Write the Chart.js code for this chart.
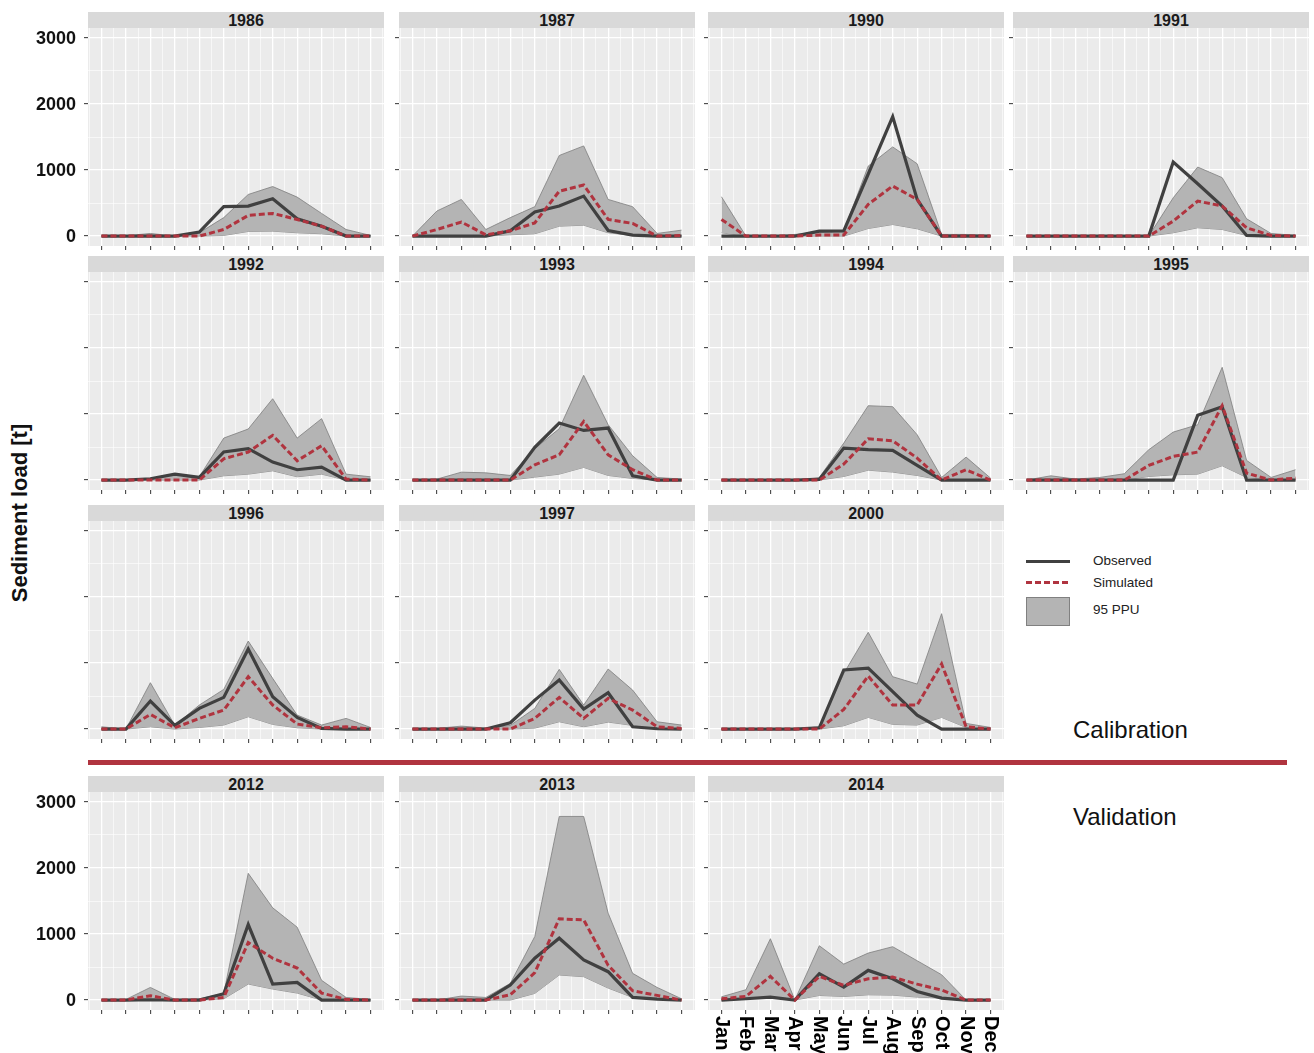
<!DOCTYPE html>
<html>
<head>
<meta charset="utf-8">
<script src="https://cdn.jsdelivr.net/npm/chart.js@4.4.0/dist/chart.umd.min.js"></script>
<style>
  body { margin: 0; width: 1314px; height: 1053px; overflow: hidden; background: #fff;
         position: relative; font-family: "Liberation Sans", Arial, sans-serif; }
  canvas { position: absolute; }
  .strip { position: absolute; background: #d9d9d9; color: #1a1a1a; font-weight: bold;
           font-size: 16px; text-align: center; height: 16px; line-height: 18px;
           box-sizing: border-box; padding-left: 20px; }
  .txt { position: absolute; white-space: nowrap; color: #222; }
</style>
</head>
<body>
<div class="txt" id="ytitle" style="left:20px;top:513px;font-size:22px;font-weight:bold;color:#111;
     transform:translate(-50%,-50%) rotate(-90deg);">Sediment load [t]</div>

<div style="position:absolute;left:1026px;top:560px;width:44px;height:3px;background:#404040;"></div>
<div class="txt" style="left:1093px;top:553px;font-size:13.5px;">Observed</div>
<div style="position:absolute;left:1026px;top:581px;width:44px;height:3px;
     background:repeating-linear-gradient(90deg,#b0343f 0 6px,transparent 6px 9px);"></div>
<div class="txt" style="left:1093px;top:575px;font-size:13.5px;">Simulated</div>
<div style="position:absolute;left:1026px;top:597px;width:44px;height:29px;box-sizing:border-box;
     background:#b4b4b4;border:1px solid #808080;"></div>
<div class="txt" style="left:1093px;top:602px;font-size:13.5px;">95 PPU</div>

<div class="txt" style="left:1073px;top:716px;font-size:24px;color:#111;">Calibration</div>
<div style="position:absolute;left:88px;top:759.5px;width:1199px;height:5px;background:#b0343f;"></div>
<div class="txt" style="left:1073px;top:803px;font-size:24px;color:#111;">Validation</div>

<script>
// facets, in drawing order
const years = ['1986', '1987', '1990', '1991', '1992', '1993', '1994', '1995',
               '1996', '1997', '2000', '2012', '2013', '2014'];
const months = ['Jan', 'Feb', 'Mar', 'Apr', 'May', 'Jun', 'Jul', 'Aug', 'Sep', 'Oct', 'Nov', 'Dec'];
const yTicks = [0, 1000, 2000, 3000];

// sediment load [t], one row per year
const observed = [
  [0, 0, 0, 0, 60, 445, 455, 565, 262, 150, 0, 0],
  [0, 0, 0, 0, 80, 365, 455, 605, 85, 15, 0, 0],
  [0, 0, 0, 0, 75, 80, 940, 1808, 555, 0, 0, 0],
  [0, 0, 0, 0, 0, 0, 1120, 793, 455, 10, 0, 0],
  [0, 0, 20, 90, 40, 425, 475, 273, 157, 197, 0, 0],
  [0, 0, 0, 0, 0, 495, 863, 752, 788, 65, 0, 0],
  [0, 0, 0, 0, 10, 485, 460, 450, 222, 0, 0, 0],
  [0, 0, 0, 0, 0, 0, 0, 980, 1111, 0, 0, 0],
  [0, 0, 425, 56, 313, 480, 1213, 490, 177, 10, 0, 0],
  [0, 0, 0, 0, 96, 439, 742, 303, 550, 35, 5, 0],
  [0, 0, 0, 0, 20, 896, 924, 566, 212, 0, 0, 0],
  [0, 0, 5, 0, 0, 96, 1144, 243, 268, 0, 0, 0],
  [0, 0, 0, 0, 228, 633, 937, 608, 430, 40, 15, 0],
  [0, 20, 45, 0, 400, 197, 450, 323, 131, 30, 0, 0]
];
const simulated = [
  [0, 0, 0, 0, 0, 100, 313, 343, 252, 150, 0, 0],
  [0, 100, 212, 20, 80, 200, 680, 773, 252, 192, 0, 10],
  [252, 0, 0, 0, 15, 15, 480, 758, 555, 0, 0, 0],
  [0, 0, 0, 0, 0, 0, 227, 530, 455, 126, 10, 0],
  [0, 0, 0, 0, 0, 323, 425, 677, 293, 520, 15, 0],
  [0, 0, 0, 0, 0, 232, 383, 888, 383, 157, 0, 0],
  [0, 0, 0, 0, 0, 242, 626, 596, 333, 0, 157, 0],
  [0, 0, 0, 0, 0, 222, 359, 424, 1126, 106, 0, 30],
  [0, 0, 222, 20, 162, 288, 793, 364, 76, 20, 35, 0],
  [0, 0, 0, 0, 0, 162, 480, 162, 465, 288, 35, 10],
  [0, 0, 0, 0, 0, 298, 803, 364, 364, 985, 35, 0],
  [0, 0, 66, 0, 0, 40, 871, 633, 486, 106, 10, 0],
  [0, 0, 0, 0, 81, 415, 1230, 1215, 526, 142, 71, 0],
  [20, 55, 359, 0, 359, 222, 323, 348, 242, 152, 0, 0]
];
const ppuUpper = [
  [0, 5, 40, 0, 50, 280, 630, 750, 590, 343, 100, 10],
  [0, 380, 555, 100, 280, 445, 1220, 1365, 555, 445, 40, 90],
  [596, 0, 0, 25, 60, 75, 1060, 1350, 1095, 25, 25, 10],
  [0, 0, 0, 0, 0, 0, 580, 1045, 885, 262, 40, 10],
  [0, 0, 20, 80, 50, 636, 773, 1232, 636, 930, 90, 50],
  [0, 15, 120, 110, 70, 475, 778, 1586, 838, 369, 40, 15],
  [0, 0, 0, 0, 40, 560, 1126, 1111, 687, 40, 348, 30],
  [0, 65, 15, 40, 96, 460, 727, 838, 1707, 298, 40, 157],
  [35, 0, 702, 56, 364, 601, 1333, 768, 212, 61, 162, 25],
  [0, 10, 45, 15, 56, 313, 904, 364, 909, 591, 111, 61],
  [0, 0, 0, 0, 35, 843, 1465, 793, 682, 1747, 86, 25],
  [0, 10, 192, 10, 20, 101, 1919, 1397, 1104, 299, 40, 10],
  [0, 0, 61, 40, 253, 962, 2780, 2780, 1316, 405, 192, 20],
  [50, 157, 929, 0, 823, 545, 712, 808, 596, 384, 0, 0]
];
const ppuLower = [
  [0, 0, 0, 0, 0, 10, 70, 75, 50, 35, 0, 0],
  [0, 0, 0, 0, 20, 35, 150, 165, 50, 10, 0, 0],
  [50, 0, 0, 0, 0, 0, 115, 175, 110, 0, 0, 0],
  [0, 0, 0, 0, 0, 0, 50, 126, 100, 10, 0, 0],
  [0, 0, 0, 0, 0, 65, 90, 140, 50, 90, 0, 0],
  [0, 0, 0, 0, 0, 45, 90, 192, 70, 25, 0, 0],
  [0, 0, 0, 0, 0, 55, 150, 121, 70, 0, 15, 0],
  [0, 0, 0, 0, 0, 55, 80, 90, 217, 40, 0, 0],
  [0, 0, 35, 0, 25, 61, 187, 71, 20, 0, 0, 0],
  [0, 0, 0, 0, 0, 15, 111, 35, 106, 56, 5, 0],
  [0, 0, 0, 0, 0, 50, 177, 71, 61, 177, 25, 0],
  [0, 0, 0, 0, 0, 20, 243, 167, 106, 0, 0, 0],
  [0, 0, 0, 0, 0, 101, 380, 354, 182, 40, 15, 0],
  [0, 20, 40, 0, 70, 55, 80, 75, 45, 30, 0, 0]
];

var RED = '#b0343f';
var colX = [88, 399, 708, 1013];
var rowY = [28, 272, 521, 792];
var plotW = 296, plotH = 218;

// ggplot-like grey panel
var panelBg = {
  id: 'panelBg',
  beforeDraw: function (chart) {
    var a = chart.chartArea, ctx = chart.ctx;
    ctx.save();
    ctx.fillStyle = '#ebebeb';
    ctx.fillRect(a.left, a.top, a.right - a.left, a.bottom - a.top);
    ctx.restore();
  }
};

// tick labels drawn by hand (month labels read top to bottom)
var axisText = {
  id: 'axisText',
  afterDraw: function (chart) {
    var o = chart.options.plugins.axisText, ctx = chart.ctx, a = chart.chartArea;
    ctx.save();
    ctx.fillStyle = '#111';
    if (o.showY) {
      ctx.font = 'bold 18px "Liberation Sans", Arial, sans-serif';
      ctx.textAlign = 'right';
      ctx.textBaseline = 'middle';
      yTicks.forEach(function (v) {
        ctx.fillText(String(v), a.left - 12, chart.scales.y.getPixelForValue(v) + 1);
      });
    }
    if (o.showX) {
      ctx.font = 'bold 20px "Liberation Sans", Arial, sans-serif';
      ctx.fillStyle = '#000';
      ctx.textAlign = 'left';
      ctx.textBaseline = 'middle';
      months.forEach(function (m, k) {
        ctx.save();
        ctx.translate(chart.scales.x.getPixelForValue(k), a.bottom + 6);
        ctx.rotate(Math.PI / 2);
        ctx.fillText(m, 0, 0);
        ctx.restore();
      });
    }
    ctx.restore();
  }
};

function pts(arr) {
  return arr.map(function (v, k) { return { x: k, y: v }; });
}

function makePanel(i) {
  var row = i < 11 ? Math.floor(i / 4) : 3;
  var col = i < 11 ? i % 4 : i - 11;
  var showY = col === 0 && (row === 0 || row === 3);
  var showX = i === 13;
  var padL = col === 0 ? 88 : 8;
  var padB = showX ? 60 : 8;

  var strip = document.createElement('div');
  strip.className = 'strip';
  strip.style.left = colX[col] + 'px';
  strip.style.top = (rowY[row] - 16) + 'px';
  strip.style.width = plotW + 'px';
  strip.textContent = years[i];
  document.body.appendChild(strip);

  var cv = document.createElement('canvas');
  cv.width = padL + plotW;
  cv.height = plotH + padB;
  cv.style.left = (colX[col] - padL) + 'px';
  cv.style.top = rowY[row] + 'px';
  document.body.appendChild(cv);

  var xGrid = [], yGrid = [];
  for (var v = -0.5; v <= 11.5; v += 0.5) xGrid.push(v);
  for (var w = 0; w <= 3000; w += 500) yGrid.push(w);

  new Chart(cv, {
    type: 'line',
    data: {
      datasets: [
        { label: 'Simulated', data: pts(simulated[i]), borderColor: RED, borderWidth: 3,
          borderDash: [6, 3], pointRadius: 0, fill: false },
        { label: 'Observed', data: pts(observed[i]), borderColor: '#404040', borderWidth: 3.2,
          pointRadius: 0, fill: false },
        { label: 'upper', data: pts(ppuUpper[i]), borderColor: '#7d7d7d', borderWidth: 0.8,
          backgroundColor: '#b4b4b4', fill: '+1', pointRadius: 0 },
        { label: 'lower', data: pts(ppuLower[i]), borderColor: '#7d7d7d', borderWidth: 0.8,
          pointRadius: 0, fill: false }
      ]
    },
    options: {
      responsive: false,
      animation: false,
      events: [],
      layout: { padding: 0 },
      plugins: {
        legend: { display: false },
        tooltip: { enabled: false },
        axisText: { showX: showX, showY: showY }
      },
      scales: {
        x: {
          type: 'linear', min: -0.55, max: 11.55,
          afterBuildTicks: function (s) { s.ticks = xGrid.map(function (v) { return { value: v }; }); },
          afterFit: function (s) { s.height = padB; },
          ticks: { display: false },
          border: { display: false },
          grid: {
            color: '#ffffff',
            lineWidth: function (c) { return Number.isInteger(c.tick.value) ? 1.3 : 0.6; },
            drawTicks: true, tickLength: 4, tickWidth: 1,
            tickColor: function (c) { return Number.isInteger(c.tick.value) ? '#333' : 'rgba(0,0,0,0)'; }
          }
        },
        y: {
          min: -150, max: 3150,
          afterBuildTicks: function (s) { s.ticks = yGrid.map(function (v) { return { value: v }; }); },
          afterFit: function (s) { s.width = padL; },
          ticks: { display: false },
          border: { display: false },
          grid: {
            color: '#ffffff',
            lineWidth: function (c) { return c.tick.value % 1000 === 0 ? 1.3 : 0.6; },
            drawTicks: true, tickLength: 4, tickWidth: 1,
            tickColor: function (c) { return c.tick.value % 1000 === 0 ? '#333' : 'rgba(0,0,0,0)'; }
          }
        }
      }
    },
    plugins: [panelBg, axisText]
  });
}

for (var i = 0; i < years.length; i++) makePanel(i);
</script>
</body>
</html>
